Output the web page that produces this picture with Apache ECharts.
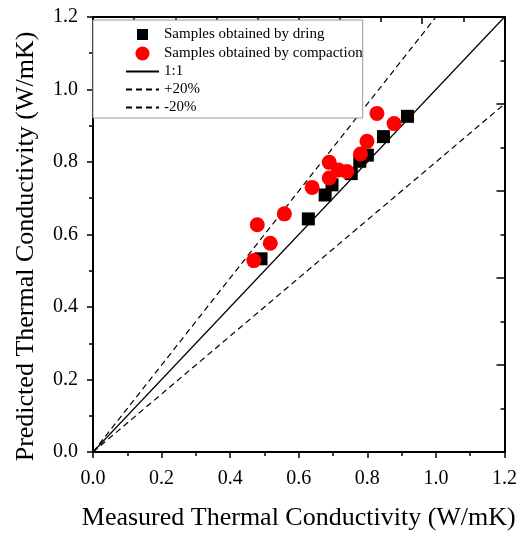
<!DOCTYPE html>
<html>
<head>
<meta charset="utf-8">
<script src="https://cdn.jsdelivr.net/npm/echarts@6/dist/echarts.min.js"></script>
<style>html,body{margin:0;padding:0;background:#fff}#c{width:520px;height:536px}</style>
</head>
<body>
<div id="c"></div>
<script>
const dringSamples = [
  [0.490, 0.533], [0.628, 0.643], [0.677, 0.709], [0.697, 0.737],
  [0.753, 0.768], [0.778, 0.802], [0.800, 0.819], [0.847, 0.870], [0.917, 0.926]
];
const compactionSamples = [
  [0.469, 0.528], [0.479, 0.627], [0.517, 0.576], [0.558, 0.657], [0.639, 0.730],
  [0.689, 0.799], [0.689, 0.756], [0.716, 0.778], [0.740, 0.774],
  [0.780, 0.822], [0.799, 0.857], [0.828, 0.934], [0.878, 0.906]
];
const lineOneToOne = [[0, 0], [1.2, 1.2]];
const linePlus20 = [[0, 0], [1.0, 1.2]];
const lineMinus20 = [[0, 0], [1.2, 0.96]];
const seriesNames = ['Samples obtained by dring', 'Samples obtained by compaction', '1:1', '+20%', '-20%'];
const xTitle = 'Measured Thermal Conductivity (W/mK)';
const yTitle = 'Predicted Thermal Conductivity (W/mK)';

const font = 'Liberation Serif';
const chart = echarts.init(document.getElementById('c'), null, {renderer: 'canvas'});
const axisLine = {show: true, onZero: false, lineStyle: {color: '#000', width: 2}};
const fmt = v => v.toFixed(1);
const hideSym = {opacity: 0, borderWidth: 0};
chart.setOption({
  animation: false,
  backgroundColor: '#fff',
  grid: {left: 93, top: 17, right: 14, bottom: 84},
  legend: {
    orient: 'vertical', left: 93, top: 20,
    padding: [6, 0, 3, 32],
    itemWidth: 33, itemHeight: 14, itemGap: 3,
    symbolKeepAspect: true,
    backgroundColor: '#fff', borderColor: '#999', borderWidth: 1,
    textStyle: {fontFamily: font, fontSize: 15, color: '#000'},
    data: [
      {name: seriesNames[0], icon: 'path://M0 0H10V10H0Z', itemStyle: {color: '#000', borderColor: '#fff', borderWidth: 3, opacity: 1}},
      {name: seriesNames[1], icon: 'circle', itemStyle: {color: '#ff0000', opacity: 1}},
      {name: seriesNames[2], itemStyle: hideSym},
      {name: seriesNames[3], itemStyle: hideSym},
      {name: seriesNames[4], itemStyle: hideSym}
    ]
  },
  xAxis: [{
    type: 'value', min: 0, max: 1.2, interval: 0.2, position: 'bottom',
    name: xTitle, nameLocation: 'middle', nameGap: 53,
    nameTextStyle: {fontFamily: font, fontSize: 26, color: '#000'},
    axisLine, axisTick: {show: true, inside: false, length: 6, lineStyle: {color: '#000', width: 1.5}},
    minorTick: {show: true, splitNumber: 2, length: 4, lineStyle: {color: '#000', width: 1.5}},
    axisLabel: {fontFamily: font, fontSize: 20, color: '#000', margin: 17, formatter: fmt},
    splitLine: {show: false}
  }, {
    type: 'value', min: 0, max: 1.2, interval: 0.24, position: 'top',
    axisLine, axisTick: {show: true, inside: true, length: 7, lineStyle: {color: '#000', width: 1.5}},
    minorTick: {show: true, splitNumber: 2, length: 5, lineStyle: {color: '#000', width: 1.5}},
    axisLabel: {show: false}, splitLine: {show: false}
  }],
  yAxis: [{
    type: 'value', min: 0, max: 1.2, interval: 0.2, position: 'left',
    name: yTitle, nameLocation: 'middle', nameGap: 54,
    nameTextStyle: {fontFamily: font, fontSize: 26, color: '#000', padding: [0, 24, 0, 0]},
    axisLine, axisTick: {show: true, inside: false, length: 6, lineStyle: {color: '#000', width: 1.5}},
    minorTick: {show: true, splitNumber: 2, length: 4, lineStyle: {color: '#000', width: 1.5}},
    axisLabel: {fontFamily: font, fontSize: 20, color: '#000', margin: 15, formatter: fmt},
    splitLine: {show: false}
  }, {
    type: 'value', min: 0, max: 1.2, interval: 0.24, position: 'right',
    axisLine, axisTick: {show: true, inside: true, length: 8, lineStyle: {color: '#000', width: 1.5}},
    minorTick: {show: true, splitNumber: 2, length: 4, lineStyle: {color: '#000', width: 1.5}},
    axisLabel: {show: false}, splitLine: {show: false}
  }],
  series: [
    {name: seriesNames[2], type: 'line', data: lineOneToOne, symbol: 'none', z: 1,
     itemStyle: {color: '#000'}, lineStyle: {color: '#000', width: 1.2, type: 'solid'}},
    {name: seriesNames[3], type: 'line', data: linePlus20, symbol: 'none', z: 1,
     itemStyle: {color: '#000'}, lineStyle: {color: '#000', width: 1.2, type: [6, 4]}},
    {name: seriesNames[4], type: 'line', data: lineMinus20, symbol: 'none', z: 1,
     itemStyle: {color: '#000'}, lineStyle: {color: '#000', width: 1.2, type: [6, 4]}},
    {name: seriesNames[0], type: 'scatter', data: dringSamples, symbol: 'rect', symbolSize: 13, z: 3,
     itemStyle: {color: '#000', opacity: 1}},
    {name: seriesNames[1], type: 'scatter', data: compactionSamples, symbol: 'circle', symbolSize: 15, z: 4,
     itemStyle: {color: '#ff0000', opacity: 1}}
  ]
});
</script>
</body>
</html>
